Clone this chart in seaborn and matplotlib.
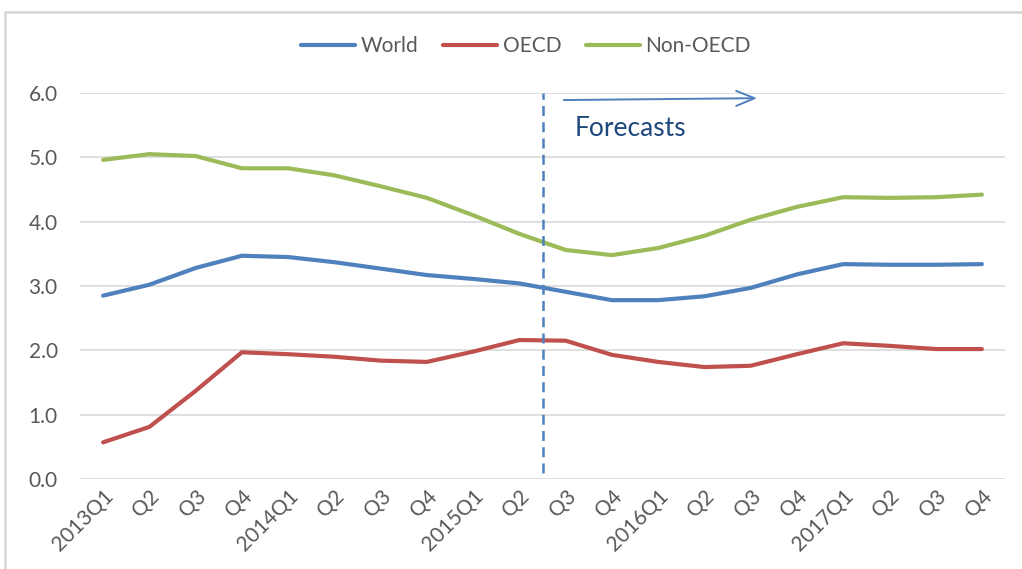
import numpy as np
import pandas as pd
import matplotlib
matplotlib.use("Agg")
import matplotlib.pyplot as plt
from matplotlib.lines import Line2D
import seaborn as sns

quarters = ["2013Q1", "Q2", "Q3", "Q4", "2014Q1", "Q2", "Q3", "Q4",
            "2015Q1", "Q2", "Q3", "Q4", "2016Q1", "Q2", "Q3", "Q4",
            "2017Q1", "Q2", "Q3", "Q4"]
world = [2.85, 3.02, 3.28, 3.47, 3.45, 3.37, 3.27, 3.17, 3.11, 3.04,
         2.91, 2.78, 2.78, 2.84, 2.97, 3.18, 3.34, 3.33, 3.33, 3.34]
oecd = [0.57, 0.81, 1.37, 1.97, 1.94, 1.90, 1.84, 1.82, 1.98, 2.16,
        2.15, 1.93, 1.82, 1.74, 1.76, 1.94, 2.11, 2.07, 2.02, 2.02]
non_oecd = [4.96, 5.05, 5.02, 4.83, 4.83, 4.72, 4.55, 4.37, 4.10, 3.81,
            3.56, 3.48, 3.59, 3.78, 4.03, 4.23, 4.38, 4.37, 4.38, 4.42]
series_names = ["World", "OECD", "Non-OECD"]
forecast_label = "Forecasts"

colors = {"World": "#4F81BD", "OECD": "#C0504D", "Non-OECD": "#9BBB59"}
text_grey = "#595959"

sns.set_theme(style="white")
plt.rcParams["font.family"] = ["Lato", "DejaVu Sans"]

idx = np.arange(len(quarters))
df = pd.DataFrame({
    "idx": np.tile(idx, 3),
    "value": world + oecd + non_oecd,
    "series": np.repeat(series_names, len(quarters)),
})

fig = plt.figure(figsize=(10.22, 5.69), dpi=100)
ax = fig.add_axes([80 / 1022, 90 / 569, 925 / 1022, 386 / 569])

sns.lineplot(data=df, x="idx", y="value", hue="series", hue_order=series_names,
             palette=colors, linewidth=3, ax=ax, legend=False, clip_on=False,
             zorder=3)

ax.set_xlim(-0.5, len(quarters) - 0.5)
ax.set_ylim(0, 6)
yt = np.arange(0, 6.1, 1.0)
ax.set_yticks(yt)
ax.set_yticklabels([f"{v:.1f}" for v in yt], fontsize=15, color=text_grey)
ax.set_xticks(idx)
ax.set_xticklabels(quarters, rotation=45, ha="right", rotation_mode="anchor",
                   fontsize=15, color=text_grey)
ax.tick_params(axis="y", length=0, pad=16)
ax.tick_params(axis="x", length=0, pad=5)
ax.grid(axis="y", color="#D9D9D9", linewidth=1.2)
ax.grid(axis="x", visible=False)
for s in ax.spines.values():
    s.set_visible(False)
ax.set_xlabel("")
ax.set_ylabel("")

# forecast boundary between 2015Q2 and 2015Q3
ax.plot([9.5, 9.5], [0.1, 6.0], color="#4F81BD", linewidth=1.8,
        linestyle=(0, (4, 2.5)), zorder=4)
ax.annotate("", xy=(14.2, 5.92), xytext=(9.9, 5.89),
            arrowprops=dict(arrowstyle="->,head_length=1.1,head_width=0.45",
                            color="#4F81BD", linewidth=1.4),
            annotation_clip=False)
ax.text(10.2, 5.45, forecast_label, fontsize=19, color="#1F497D",
        va="center", ha="left")

handles = [Line2D([0], [0], color=colors[n], linewidth=3) for n in series_names]
fig.legend(handles, series_names, loc="center",
           bbox_to_anchor=(526 / 1022, 1 - 46 / 569),
           ncol=3, frameon=False, fontsize=15, labelcolor=text_grey,
           handlelength=2.6, handletextpad=0.25, columnspacing=1.2)

# chart-area border
fig.add_artist(Line2D([5 / 1022, 1.0], [1 - 12 / 569, 1 - 12 / 569],
                      color="#D9D9D9", linewidth=2, transform=fig.transFigure))
fig.add_artist(Line2D([5 / 1022, 5 / 1022], [0.0, 1 - 12 / 569],
                      color="#D9D9D9", linewidth=2, transform=fig.transFigure))

fig.savefig("out.png", dpi=100, facecolor="white")
